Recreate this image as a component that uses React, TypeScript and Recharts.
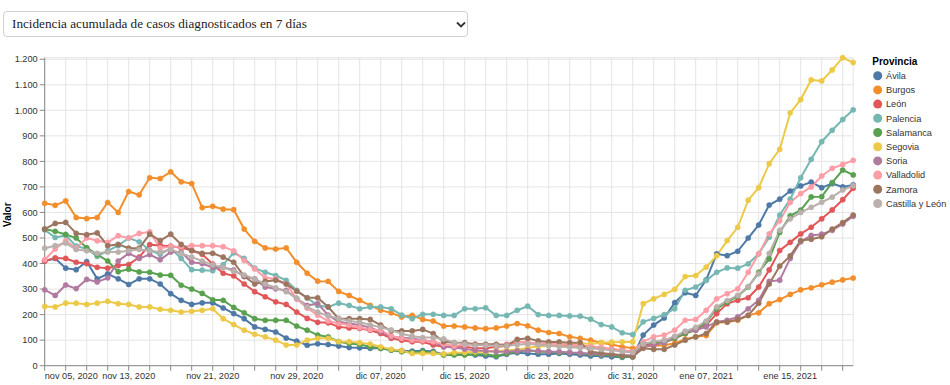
import { LineChart, Line, XAxis, YAxis, CartesianGrid } from "recharts";

const START = Date.UTC(2020, 10, 5);
const DAY = 86400000;

// Provinces and their colours, in legend order
const provincias = [
  "Ávila",
  "Burgos",
  "León",
  "Palencia",
  "Salamanca",
  "Segovia",
  "Soria",
  "Valladolid",
  "Zamora",
  "Castilla y León",
];
const colores = [
  "#4e79a7",
  "#f28e2b",
  "#e15759",
  "#76b7b2",
  "#59a14f",
  "#edc948",
  "#b07aa1",
  "#ff9da7",
  "#9c755f",
  "#bab0ac",
];

// daily values, 5 nov 2020 .. 21 ene 2021
const avila = [
  410, 420, 382, 376, 408, 340, 360, 340, 318, 340, 340, 320, 282, 256, 240, 246, 246, 226, 204, 184,
  152, 142, 132, 108, 96, 80, 86, 83, 77, 71, 70, 68, 68, 61, 59, 57, 59, 56, 44, 46,
  45, 42, 38, 35, 45, 51, 48, 45, 45, 48, 45, 42, 38, 38, 35, 33, 35,
  120, 159, 187, 247, 286, 275, 336, 438, 431, 448, 500, 551, 629, 652, 684, 704, 719, 697, 713, 700, 708,
];
const burgos = [
  636, 628, 645, 580, 576, 580, 639, 600, 682, 669, 736, 733, 759, 720, 713, 619, 624, 613, 611,
  535, 487, 461, 457, 461, 405, 362, 331, 330, 291, 275, 256, 236, 217, 207, 191, 197, 181, 175, 155,
  155, 152, 148, 145, 148, 155, 165, 156, 139, 130, 126, 113, 107, 100, 90, 83, 74, 68,
  75, 78, 80, 88, 104, 113, 118, 168, 171, 178, 197, 207, 243, 259, 279, 297, 305, 317, 327, 336, 343,
];
const leon = [
  410, 422, 420, 405, 400, 385, 382, 392, 396, 425, 474, 471, 468, 462, 452, 436, 398, 362, 352, 320,
  290, 270, 250, 240, 210, 185, 170, 168, 152, 148, 146, 139, 126, 107, 100, 94, 94, 81, 74, 74,
  74, 68, 68, 74, 77, 94, 90, 84, 84, 80, 80, 77, 74, 68, 64, 61, 55,
  81, 85, 94, 107, 126, 146, 159, 204, 243, 256, 266, 308, 375, 451, 483, 516, 542, 575, 610, 650, 695,
];
const palencia = [
  532, 502, 510, 468, 458, 428, 450, 470, 500, 485, 452, 436, 460, 420, 376, 374, 372, 396, 442, 420, 382,
  366, 353, 334, 295, 265, 236, 230, 245, 236, 223, 230, 230, 223, 198, 184, 201, 201, 197,
  197, 223, 223, 227, 197, 197, 217, 233, 200, 197, 197, 195, 194, 182, 161, 152, 129, 122,
  172, 185, 200, 223, 295, 308, 334, 366, 383, 382, 399, 438, 503, 590, 652, 736, 808, 877, 922, 964, 1002,
];
const salamanca = [
  535, 526, 514, 500, 462, 435, 410, 368, 378, 367, 366, 355, 354, 315, 300, 283, 258, 256, 228,
  207, 184, 178, 178, 178, 155, 139, 120, 113, 94, 87, 83, 74, 68, 61, 55, 52, 55, 52, 42,
  42, 42, 45, 45, 38, 48, 55, 61, 55, 55, 51, 51, 48, 45, 42, 42, 35, 35,
  87, 90, 90, 107, 126, 139, 171, 223, 249, 272, 308, 366, 418, 522, 587, 609, 661, 662, 717, 766, 747,
];
const segovia = [
  232, 230, 245, 245, 240, 245, 252, 243, 240, 230, 230, 221, 217, 210, 213, 217, 223, 184, 161,
  139, 123, 113, 100, 81, 81, 100, 107, 107, 94, 94, 90, 85, 74, 64, 59, 48, 48, 48, 46,
  51, 52, 55, 55, 58, 60, 62, 70, 75, 78, 82, 85, 88, 85, 90, 92, 93, 93,
  243, 262, 279, 299, 349, 353, 386, 431, 490, 542, 648, 697, 791, 847, 990, 1042, 1119, 1115, 1158, 1206, 1187,
];
const soria = [
  297, 275, 316, 302, 338, 328, 344, 410, 440, 420, 435, 415, 445, 445, 405, 400, 385, 385, 375,
  349, 340, 308, 301, 295, 262, 236, 243, 198, 172, 165, 159, 149, 133, 113, 109, 107, 100, 94, 74,
  71, 65, 60, 58, 55, 55, 58, 60, 58, 55, 55, 52, 50, 48, 45, 45, 42, 40,
  74, 81, 90, 113, 133, 139, 152, 171, 178, 191, 223, 256, 330, 335, 420, 485, 510, 515, 530, 555, 585,
];
const valladolid = [
  415, 457, 489, 461, 500, 489, 483, 509, 500, 518, 524, 461, 466, 466, 470, 470, 470, 466, 450,
  412, 379, 344, 340, 321, 262, 225, 198, 175, 165, 159, 149, 142, 139, 117, 107, 100, 98, 94, 85,
  77, 82, 85, 82, 80, 85, 95, 90, 88, 85, 85, 82, 80, 75, 72, 65, 60, 55,
  94, 113, 120, 139, 178, 181, 217, 262, 282, 301, 366, 438, 516, 568, 639, 674, 700, 743, 773, 788, 804,
];
const zamora = [
  535, 557, 561, 518, 513, 520, 470, 475, 460, 460, 515, 490, 515, 475, 450, 440, 440, 425, 405,
  350, 320, 330, 335, 320, 292, 266, 266, 230, 184, 184, 184, 181, 159, 136, 136, 136, 142, 126, 94,
  90, 90, 84, 84, 84, 80, 103, 107, 97, 93, 93, 90, 90, 55, 50, 45, 40, 35,
  68, 64, 64, 81, 100, 113, 126, 171, 171, 181, 197, 245, 320, 390, 430, 490, 495, 505, 535, 560, 590,
];
const castillaLeon = [
  460, 470, 480, 455, 450, 440, 445, 445, 450, 455, 450, 445, 455, 440, 425, 410, 395, 385, 370,
  355, 340, 320, 305, 290, 265, 230, 210, 195, 185, 175, 170, 160, 150, 140, 125, 115, 110, 110, 105,
  90, 85, 80, 80, 78, 78, 82, 85, 82, 78, 75, 72, 70, 68, 64, 60, 56, 52,
  85, 95, 100, 115, 135, 150, 175, 230, 255, 275, 310, 360, 440, 530, 575, 600, 620, 640, 660, 688, 705,
];

const valores = [avila, burgos, leon, palencia, salamanca, segovia, soria, valladolid, zamora, castillaLeon];

const labelDates = [
  "2020-11-05",
  "2020-11-13",
  "2020-11-21",
  "2020-11-29",
  "2020-12-07",
  "2020-12-15",
  "2020-12-23",
  "2020-12-31",
  "2021-01-07",
  "2021-01-15",
];
const labelText = [
  "nov 05, 2020",
  "nov 13, 2020",
  "nov 21, 2020",
  "nov 29, 2020",
  "dic 07, 2020",
  "dic 15, 2020",
  "dic 23, 2020",
  "dic 31, 2020",
  "ene 07, 2021",
  "ene 15, 2021",
];
const yTicks = [0, 100, 200, 300, 400, 500, 600, 700, 800, 900, 1000, 1100, 1200];

const data = avila.map((_, i) => {
  const row: Record<string, number> = { t: START + i * DAY };
  valores.forEach((serie, k) => {
    row[`s${k}`] = serie[i];
  });
  return row;
});

const END = START + (avila.length - 1) * DAY;
const gridTicks = Array.from({ length: 39 }, (_, k) => START + 2 * k * DAY);
const labelTicks = labelDates.map((d) => Date.parse(d));

const fmtValor = (v: number) =>
  v >= 1000 ? `${Math.floor(v / 1000)}.${String(v % 1000).padStart(3, "0")}` : `${v}`;

function DateTick(props: any) {
  const { x, y, payload, index } = props;
  const k = labelTicks.indexOf(payload.value);
  return (
    <text
      x={x}
      y={y}
      dy="0.71em"
      textAnchor={index === 0 ? "start" : "middle"}
      fontSize={9.2}
      fill="#333"
    >
      {labelText[k]}
    </text>
  );
}

function ValorLabel(props: any) {
  const { viewBox } = props;
  const x = viewBox.x + 10.8;
  const y = viewBox.y + viewBox.height / 2 + 3;
  return (
    <text
      x={x}
      y={y}
      transform={`rotate(-90, ${x}, ${y})`}
      textAnchor="middle"
      fontSize={10}
      fontWeight="bold"
      fill="#000"
    >
      Valor
    </text>
  );
}

export default function App() {
  return (
    <div
      style={{
        position: "absolute",
        left: 0,
        top: 0,
        width: 950,
        height: 385,
        background: "#fff",
        fontFamily: "'Liberation Sans', Arial, sans-serif",
      }}
    >
      <div
        style={{
          position: "absolute",
          left: 3,
          top: 11,
          width: 465,
          height: 26,
          boxSizing: "border-box",
          border: "1px solid #d0d0d0",
          borderRadius: 4,
          fontFamily: "'Liberation Serif', 'Times New Roman', serif",
          fontSize: 13.2,
          lineHeight: "24px",
          paddingLeft: 8,
          color: "#222",
        }}
      >
        Incidencia acumulada de casos diagnosticados en 7 días
        <svg
          width={10}
          height={7}
          style={{ position: "absolute", left: 452, top: 9 }}
        >
          <polyline points="1,1.5 5,5.5 9,1.5" fill="none" stroke="#333" strokeWidth={1.8} />
        </svg>
      </div>

      <LineChart
        width={950}
        height={385}
        data={data}
        margin={{ top: 57.7, right: 96.8, bottom: 0, left: 0.7 }}
        style={{ position: "absolute", left: 0, top: 0 }}
      >
        <CartesianGrid xAxisId="grid" stroke="#e4e4e4" />
        <XAxis
          xAxisId="grid"
          dataKey="t"
          type="number"
          domain={[START, END]}
          ticks={gridTicks}
          tickFormatter={() => ""}
          height={5}
          tickSize={5}
          stroke="#888"
        />
        <XAxis
          xAxisId="lab"
          dataKey="t"
          type="number"
          domain={[START, END]}
          ticks={labelTicks}
          height={14.3}
          tickSize={0}
          tickMargin={2}
          axisLine={false}
          tickLine={false}
          tick={<DateTick />}
          interval={0}
        />
        <YAxis
          domain={[0, 1200]}
          ticks={yTicks}
          width={44}
          tickSize={5}
          tickMargin={2}
          stroke="#888"
          tick={{ fontSize: 9.2, fill: "#333" }}
          tickFormatter={fmtValor}
          interval={0}
          label={<ValorLabel />}
        />
        {provincias.map((p, k) => (
          <Line
            key={p}
            xAxisId="grid"
            type="linear"
            dataKey={`s${k}`}
            name={p}
            stroke={colores[k]}
            strokeWidth={2}
            dot={{ r: 2.6, fill: colores[k], stroke: colores[k], strokeWidth: 0.5 }}
            activeDot={false}
            isAnimationActive={false}
          />
        ))}
      </LineChart>

      <svg
        width={82}
        height={165}
        style={{ position: "absolute", left: 868, top: 50 }}
      >
        <text x={4.3} y={15} fontSize={10} fontWeight="bold" fill="#000">
          Provincia
        </text>
        {provincias.map((p, k) => (
          <g key={p}>
            <circle cx={9.7} cy={25.7 + 14.2 * k} r={4.5} fill={colores[k]} />
            <text x={18} y={25.7 + 14.2 * k + 3.2} fontSize={9.2} fill="#333">
              {p}
            </text>
          </g>
        ))}
      </svg>
    </div>
  );
}
